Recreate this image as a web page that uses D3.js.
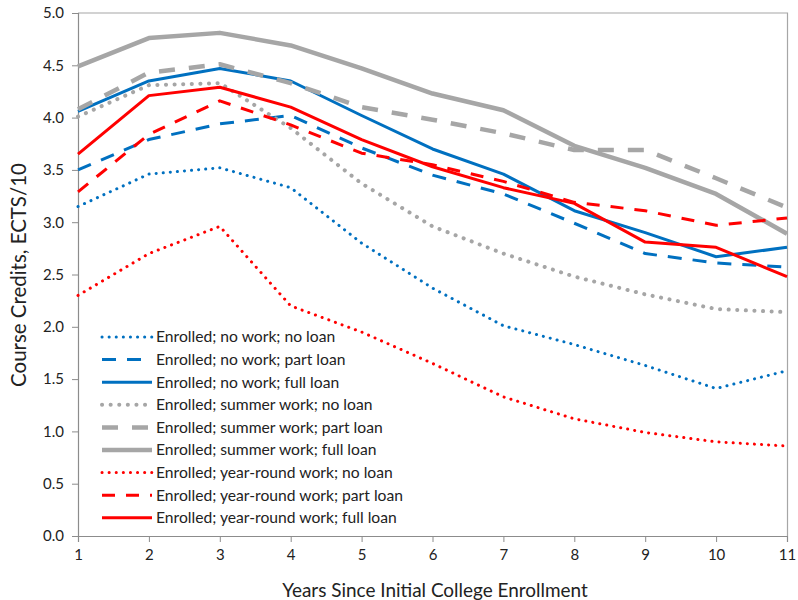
<!DOCTYPE html>
<html><head><meta charset="utf-8">
<script src="https://cdn.jsdelivr.net/npm/d3@7"></script>
<style>body{margin:0;background:#fff}svg text{font-family:Lato,"Open Sans",sans-serif;fill:#222}</style>
</head><body><svg id="c" width="798" height="600"></svg>
<script>
const years = [1,2,3,4,5,6,7,8,9,10,11];
const yTicks = [0,0.5,1,1.5,2,2.5,3,3.5,4,4.5,5];
const seriesNames = [
 "Enrolled; no work; no loan","Enrolled; no work; part loan","Enrolled; no work; full loan",
 "Enrolled; summer work; no loan","Enrolled; summer work; part loan","Enrolled; summer work; full loan",
 "Enrolled; year-round work; no loan","Enrolled; year-round work; part loan","Enrolled; year-round work; full loan"];
const noWorkNoLoan     = [3.15,3.46,3.52,3.33,2.80,2.37,2.01,1.83,1.63,1.41,1.58];
const noWorkPartLoan   = [3.50,3.79,3.94,4.02,3.71,3.45,3.27,2.99,2.70,2.61,2.57];
const noWorkFullLoan   = [4.06,4.35,4.47,4.35,4.02,3.70,3.46,3.11,2.90,2.67,2.76];
const summerNoLoan     = [4.01,4.31,4.33,3.90,3.37,2.96,2.70,2.48,2.31,2.17,2.14];
const summerPartLoan   = [4.08,4.43,4.51,4.33,4.10,3.98,3.85,3.69,3.69,3.42,3.14];
const summerFullLoan   = [4.49,4.76,4.81,4.69,4.47,4.23,4.07,3.73,3.52,3.27,2.89];
const yearNoLoan       = [2.30,2.70,2.96,2.20,1.95,1.65,1.33,1.12,0.99,0.90,0.86];
const yearPartLoan     = [3.29,3.84,4.16,3.93,3.66,3.55,3.39,3.19,3.11,2.97,3.04];
const yearFullLoan     = [3.65,4.21,4.29,4.10,3.79,3.53,3.33,3.18,2.81,2.76,2.48];
const seriesValues = [noWorkNoLoan,noWorkPartLoan,noWorkFullLoan,summerNoLoan,summerPartLoan,summerFullLoan,yearNoLoan,yearPartLoan,yearFullLoan];

const BLUE="#0070C0", GRAY="#A6A6A6", RED="#FF0000";
const styles = [
 {c:BLUE,w:3,d:"0.1,7",cap:"round"},{c:BLUE,w:3,d:"14,11",cap:"butt"},{c:BLUE,w:3,d:null,cap:"butt"},
 {c:GRAY,w:4,d:"0.1,8.5",cap:"round"},{c:GRAY,w:4.5,d:"16,14",cap:"butt"},{c:GRAY,w:4.5,d:null,cap:"butt"},
 {c:RED,w:3,d:"0.1,7",cap:"round"},{c:RED,w:3,d:"13,11",cap:"butt"},{c:RED,w:3,d:null,cap:"butt"}];

const svg = d3.select("#c");
const L=78,R=787,T=13,B=536;
const x = d3.scaleLinear().domain([1,11]).range([L,R]);
const y = d3.scaleLinear().domain([0,5]).range([B,T]);

function fit(sel, target){
  const w = sel.node().getComputedTextLength();
  const fs = parseFloat(sel.attr("font-size"));
  if (w>0) sel.attr("font-size", fs*target/w);
}

// plot border (top & right)
svg.append("path").attr("d",`M${L},${T}H${R+0.5}V${B}`).attr("fill","none").attr("stroke","#A6A6A6").attr("stroke-width",1.2);

const gx = svg.append("g").attr("transform",`translate(0,${B})`)
 .call(d3.axisBottom(x).tickValues(years).tickFormat(d3.format("d")).tickSize(6).tickPadding(7));
const gy = svg.append("g").attr("transform",`translate(${L},0)`)
 .call(d3.axisLeft(y).tickValues(yTicks).tickFormat(d3.format(".1f")).tickSize(6).tickPadding(8));
[gx,gy].forEach(g=>{g.select(".domain").attr("stroke","#8C8C8C").attr("stroke-width",1.2);
 g.selectAll(".tick line").attr("stroke","#8C8C8C");
 g.selectAll("text").attr("font-size",15).attr("font-family","Lato").attr("fill","#222");});

const line = d3.line().x((d,i)=>x(years[i])).y(d=>y(d));
seriesValues.forEach((vals,i)=>{
 const s=styles[i];
 svg.append("path").attr("d",line(vals)).attr("fill","none").attr("stroke",s.c)
  .attr("stroke-width",s.w).attr("stroke-dasharray",s.d).attr("stroke-linecap",s.cap).attr("stroke-linejoin","round");
});

// legend
const lg = svg.append("g");
const texts=[];
seriesNames.forEach((n,i)=>{
 const s=styles[i], yy=337+i*22.6;
 lg.append("line").attr("x1",102).attr("x2",152).attr("y1",yy).attr("y2",yy)
  .attr("stroke",s.c).attr("stroke-width",s.w).attr("stroke-dasharray",s.d).attr("stroke-linecap",s.cap);
 texts.push(lg.append("text").attr("x",156).attr("y",yy).attr("dy","0.35em").attr("font-size",14.5).text(n));
});
fit(texts[8], 241);
const lfs = texts[8].attr("font-size");
texts.forEach(t=>t.attr("font-size",lfs));

const xt = svg.append("text").attr("x",435).attr("y",590).attr("text-anchor","middle").attr("dy","0.35em").attr("font-size",17.5)
 .text("Years Since Initial College Enrollment");
fit(xt,306);
const yt = svg.append("text").attr("transform","translate(19,275) rotate(-90)").attr("text-anchor","middle").attr("dy","0.35em").attr("font-size",17.5)
 .text("Course Credits, ECTS/10");
fit(yt,224);
</script></body></html>
